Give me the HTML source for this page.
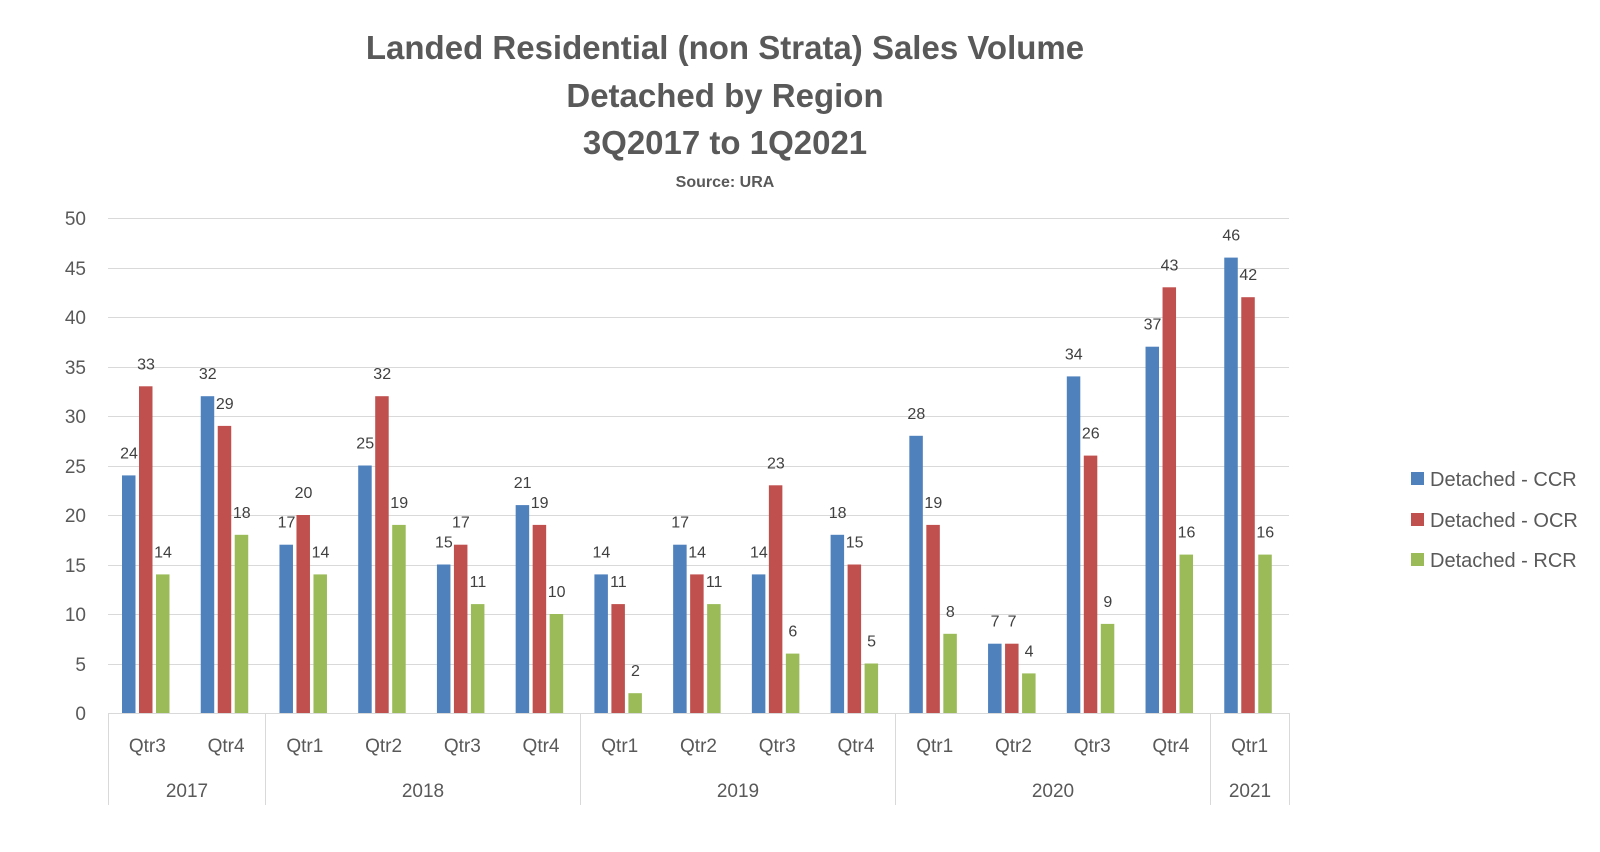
<!DOCTYPE html>
<html><head><meta charset="utf-8"><style>
html,body{margin:0;padding:0;background:#fff;}
svg{display:block;font-family:"Liberation Sans",sans-serif;}
</style></head><body>
<svg width="1600" height="852" viewBox="0 0 1600 852" xmlns="http://www.w3.org/2000/svg">
<g font-weight="bold" fill="#595959" text-anchor="middle">
<text x="725" y="59" font-size="33">Landed Residential (non Strata) Sales Volume</text>
<text x="725" y="107" font-size="33">Detached by Region</text>
<text x="725" y="154" font-size="33">3Q2017 to 1Q2021</text>
<text x="725" y="187" font-size="16">Source: URA</text>
</g>
<g stroke="#d9d9d9" stroke-width="1">
<line x1="108" x2="1289" y1="218.5" y2="218.5"/>
<line x1="108" x2="1289" y1="268.5" y2="268.5"/>
<line x1="108" x2="1289" y1="317.5" y2="317.5"/>
<line x1="108" x2="1289" y1="367.5" y2="367.5"/>
<line x1="108" x2="1289" y1="416.5" y2="416.5"/>
<line x1="108" x2="1289" y1="466.5" y2="466.5"/>
<line x1="108" x2="1289" y1="515.5" y2="515.5"/>
<line x1="108" x2="1289" y1="565.5" y2="565.5"/>
<line x1="108" x2="1289" y1="614.5" y2="614.5"/>
<line x1="108" x2="1289" y1="664.5" y2="664.5"/>
<line x1="108" x2="1289" y1="713.5" y2="713.5"/>
<line x1="108.5" x2="108.5" y1="713" y2="805"/>
<line x1="265.5" x2="265.5" y1="713" y2="805"/>
<line x1="580.5" x2="580.5" y1="713" y2="805"/>
<line x1="895.5" x2="895.5" y1="713" y2="805"/>
<line x1="1210.5" x2="1210.5" y1="713" y2="805"/>
<line x1="1289.5" x2="1289.5" y1="713" y2="805"/>
</g>
<g fill="#595959" font-size="19" text-anchor="end">
<text x="86" y="720">0</text><text x="86" y="671">5</text><text x="86" y="621">10</text>
<text x="86" y="572">15</text><text x="86" y="522">20</text><text x="86" y="473">25</text>
<text x="86" y="423">30</text><text x="86" y="374">35</text><text x="86" y="324">40</text>
<text x="86" y="275">45</text><text x="86" y="225">50</text>
</g>
<g id="bars"></g>
<g fill="#595959" font-size="19" text-anchor="middle" id="cats"></g>
<g fill="#595959" font-size="19" text-anchor="middle">
<text x="187" y="797">2017</text><text x="423" y="797">2018</text>
<text x="738" y="797">2019</text><text x="1053" y="797">2020</text><text x="1250" y="797">2021</text>
</g>
<g font-size="20" fill="#595959">
<rect x="1411" y="472" width="13" height="13" fill="#4f81bd"/><text x="1430" y="486">Detached - CCR</text>
<rect x="1411" y="513" width="13" height="13" fill="#c0504d"/><text x="1430" y="527">Detached - OCR</text>
<rect x="1411" y="553" width="13" height="13" fill="#9bbb59"/><text x="1430" y="567">Detached - RCR</text>
</g>
<script>
(function(){
var d=[[24,33,14],[32,29,18],[17,20,14],[25,32,19],[15,17,11],[21,19,10],[14,11,2],[17,14,11],[14,23,6],[18,15,5],[28,19,8],[7,7,4],[34,26,9],[37,43,16],[46,42,16]];
var q=["Qtr3","Qtr4","Qtr1","Qtr2","Qtr3","Qtr4","Qtr1","Qtr2","Qtr3","Qtr4","Qtr1","Qtr2","Qtr3","Qtr4","Qtr1"];
var c=["#4f81bd","#c0504d","#9bbb59"];
var ns="http://www.w3.org/2000/svg",b=document.getElementById("bars"),ct=document.getElementById("cats");
var gw=(1289-108)/15,s=9.9,z=713;
d.forEach(function(g,i){
 var gx=108+i*gw;
 g.forEach(function(v,j){
  var x=gx+14+j*17,h=v*s;
  var r=document.createElementNS(ns,"rect");
  r.setAttribute("x",x);r.setAttribute("y",z-h);r.setAttribute("width",13.5);r.setAttribute("height",h);r.setAttribute("fill",c[j]);
  b.appendChild(r);
  var t=document.createElementNS(ns,"text");
  t.setAttribute("x",x+7);t.setAttribute("y",z-h-17);t.setAttribute("font-size","16");t.setAttribute("fill","#404040");t.setAttribute("text-anchor","middle");
  t.textContent=v;b.appendChild(t);
 });
 var t=document.createElementNS(ns,"text");
 t.setAttribute("x",gx+gw/2);t.setAttribute("y",752);t.textContent=q[i];ct.appendChild(t);
});
})();
</script>
</svg>
</body></html>
